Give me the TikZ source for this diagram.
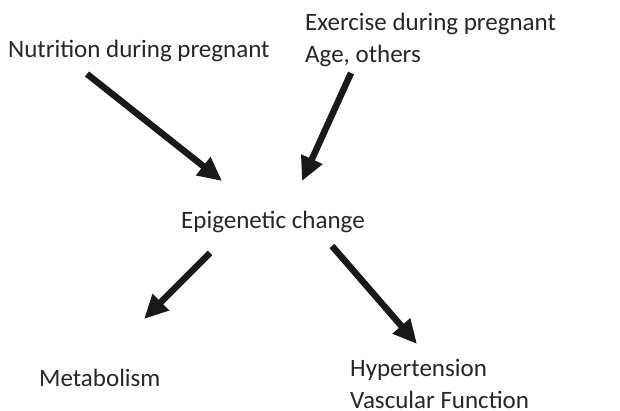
\documentclass[tikz,border=0pt]{standalone}
\usepackage{fontspec}
\setmainfont{Carlito}
\usetikzlibrary{arrows.meta}

\tikzset{
  lbl/.style={inner sep=0pt, anchor=base west, align=left, text=black!85, font=\fontsize{25}{32}\selectfont},
  bigarrow/.style={line width=6.5pt, -{Triangle[length=24pt,width=22pt]}, black!90}
}

\begin{document}
\begin{tikzpicture}[x=1pt, y=-1pt]
  \useasboundingbox (0,0) rectangle (620,411);

  % texts (base = last line)
  \node[lbl] (nutri) at (8,58) {Nutrition during pregnant};
  \node[lbl] (exer) at (305,63) {Exercise during pregnant\\Age, others};
  \node[lbl] (epi) at (181,229) {Epigenetic change};
  \node[lbl] (meta) at (39,386) {Metabolism};
  \node[lbl] (hyper) at (350,408) {Hypertension\\Vascular Function};

  % arrow ends
  \coordinate (a1s) at (87,74);
  \coordinate (a1e) at (222,181);
  \coordinate (a2s) at (351,73);
  \coordinate (a2e) at (302,181);
  \coordinate (a3s) at (210,253);
  \coordinate (a3e) at (144,319);
  \coordinate (a4s) at (332,246);
  \coordinate (a4e) at (417,344);

  % arrows
  \draw[bigarrow] (a1s) -- (a1e);
  \draw[bigarrow] (a2s) -- (a2e);
  \draw[bigarrow] (a3s) -- (a3e);
  \draw[bigarrow] (a4s) -- (a4e);
\end{tikzpicture}
\end{document}
